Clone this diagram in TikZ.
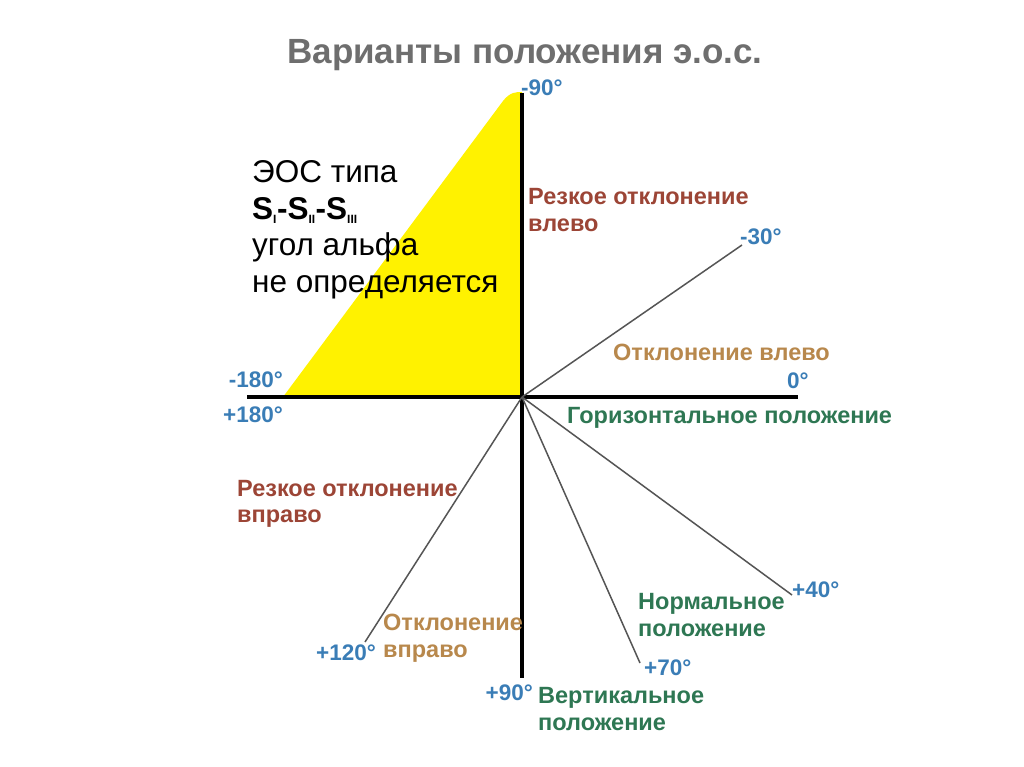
\documentclass[tikz,border=0pt]{standalone}
\usepackage{fontspec}
\setmainfont{Liberation Sans}
\definecolor{degblue}{HTML}{3A7DB6}
\definecolor{redbr}{HTML}{9C4536}
\definecolor{orbr}{HTML}{B8884C}
\definecolor{grn}{HTML}{2E7753}
\definecolor{titlegray}{HTML}{6E6E6E}
\definecolor{ray}{HTML}{555555}
\tikzset{
  deg/.style={font=\bfseries\fontsize{22.5}{24}\selectfont, text=degblue, inner sep=0pt},
  lab/.style={font=\bfseries\fontsize{23.5}{26.5}\selectfont, inner sep=0pt, align=left},
  axis/.style={line width=4pt, black},
  rayline/.style={line width=1.5pt, ray},
}
\newcommand{\romsub}[1]{\textsubscript{\fontsize{12}{12}\selectfont #1}}
\begin{document}
\begin{tikzpicture}[x=1pt,y=-1pt]
\useasboundingbox (0,0) rectangle (1024,767);
\fill[white] (0,0) rectangle (1024,767);
% coordinates
\coordinate (O) at (522,397);
\coordinate (top) at (522,93);
\coordinate (bot) at (522,678);
\coordinate (left) at (247,397);
\coordinate (right) at (798,397);
\coordinate (e30) at (742,245);
\coordinate (e40) at (792,595);
\coordinate (e70) at (640,663);
\coordinate (e120) at (365,642);
% yellow triangle
\fill[yellow] (283,397) -- (503,101) .. controls (510,92) and (516,92) .. (522,92) -- (O) -- cycle;
% axes
\draw[axis] (left) -- (right);
\draw[axis] (top) -- (bot);
% rays
\draw[rayline] (O) -- (e30);
\draw[rayline] (O) -- (e40);
\draw[rayline] (O) -- (e70);
\draw[rayline] (O) -- (e120);
% title
\node[font=\bfseries\fontsize{35}{40}\selectfont, text=titlegray] (title) at (525,55) {Варианты положения э.о.с.};
% degree labels
\node[deg, anchor=west] (d90m) at (521,88) {-90°};
\node[deg, anchor=west] (d30m) at (740,237) {-30°};
\node[deg, anchor=west] (d0) at (787,381) {0°};
\node[deg, anchor=east] (d180m) at (283,380) {-180°};
\node[deg, anchor=east] (d180p) at (283,415) {+180°};
\node[deg, anchor=east] (d120) at (376,653) {+120°};
\node[deg, anchor=east] (d90p) at (533,693) {+90°};
\node[deg, anchor=west] (d70) at (644,668) {+70°};
\node[deg, anchor=west] (d40) at (792,590) {+40°};
% region labels
\node[lab, text=redbr, anchor=west] (rl) at (528,210) {Резкое отклонение\\влево};
\node[lab, text=orbr, anchor=west] (ol) at (613,352) {Отклонение влево};
\node[lab, text=grn, anchor=west] (hor) at (567,418) {Горизонтальное положение};
\node[lab, text=redbr, anchor=west] (rr) at (237,504) {Резкое отклонение\\вправо};
\node[lab, text=orbr, anchor=west] (or) at (383,638) {Отклонение\\вправо};
\node[lab, text=grn, anchor=west] (vert) at (538,709) {Вертикальное\\положение};
\node[lab, text=grn, anchor=west] (norm) at (638,615) {Нормальное\\положение};
% black text
\node[font=\fontsize{31.5}{36.5}\selectfont, align=left, anchor=west, inner sep=0pt] (eos) at (252,230)
  {ЭОС типа\\\textbf{S\romsub{I}-S\romsub{II}-S\romsub{III}}\\угол альфа\\не определяется};
\end{tikzpicture}
\end{document}
